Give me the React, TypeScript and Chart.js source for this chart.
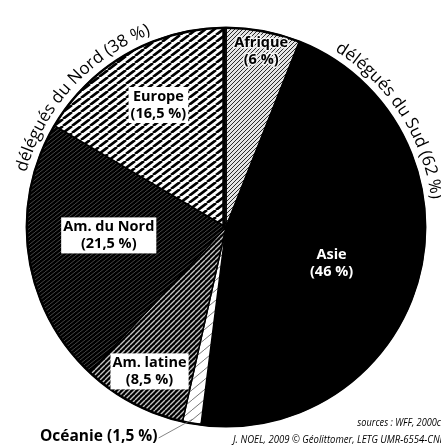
import React, { useEffect, useRef } from "react";
import { Chart, registerables } from "chart.js";

Chart.register(...registerables);

const categories = ["Afrique", "Asie", "Océanie", "Am. latine", "Am. du Nord", "Europe"];
const shares = [6, 46, 1.5, 8.5, 21.5, 16.5];
const shareText = ["6 %", "46 %", "1,5 %", "8,5 %", "21,5 %", "16,5 %"];
const groupLabels = ["délégués du Nord (38 %)", "délégués du Sud (62 %)"];
const sourceLines = ["sources : WFF, 2000c", "J. NOEL, 2009 © Géolittomer, LETG UMR-6554-CNRS"];

const W = 441;
const H = 446;

function hatch(w: number, h: number, bg: string, fg: string, lw: number) {
  const c = document.createElement("canvas");
  c.width = w;
  c.height = h;
  const x = c.getContext("2d")!;
  x.fillStyle = bg;
  x.fillRect(0, 0, w, h);
  x.strokeStyle = fg;
  x.lineWidth = lw;
  x.beginPath();
  for (let i = -1; i <= 1; i++) {
    x.moveTo(i * w, h);
    x.lineTo(i * w + w, 0);
  }
  x.stroke();
  return x.createPattern(c, "repeat")!;
}

// label style config: radius fraction, angle offset (deg), mode
const labelStyle: Record<string, { rf: number; da: number; mode: string }> = {
  "Afrique": { rf: 0.9, da: 0.5, mode: "halo" },
  "Asie": { rf: 0.56, da: 4.5, mode: "white" },
  "Océanie": { rf: 0, da: 0, mode: "outside" },
  "Am. latine": { rf: 0.82, da: 0, mode: "box" },
  "Am. du Nord": { rf: 0.59, da: 4, mode: "box" },
  "Europe": { rf: 0.7, da: 0.7, mode: "box" },
};

export default function App() {
  const ref = useRef<HTMLCanvasElement | null>(null);
  useEffect(() => {
    const canvas = ref.current!;
    const fills = [
      hatch(4, 4, "#e4e4e4", "#2a2a2a", 1),
      "#000000",
      hatch(12, 10, "#ffffff", "#777777", 1),
      hatch(5, 5, "#000000", "#c4c4c4", 1.4),
      hatch(5, 4, "#000000", "#5a5a5a", 0.8),
      hatch(9, 7, "#ffffff", "#000000", 2.6),
    ];
    const FONT = "'Open Sans', 'Noto Sans', sans-serif";

    const overlay = {
      id: "overlay",
      afterDatasetsDraw(chart: any) {
        const ctx: CanvasRenderingContext2D = chart.ctx;
        const meta = chart.getDatasetMeta(0);
        const arc0 = meta.data[0];
        const cx = arc0.x;
        const cy = arc0.y;
        const R = arc0.outerRadius;
        ctx.save();
        ctx.beginPath();
        ctx.arc(cx, cy, R, 0, Math.PI * 2);
        ctx.lineWidth = 2.4;
        ctx.strokeStyle = "#000";
        ctx.stroke();
        ctx.beginPath();
        ctx.moveTo(cx - 2, cy);
        ctx.lineTo(cx - 2, cy - R);
        ctx.lineWidth = 3.5;
        ctx.stroke();

        ctx.textAlign = "center";
        ctx.textBaseline = "middle";
        meta.data.forEach((arc: any, i: number) => {
          const name = categories[i];
          const st = labelStyle[name];
          const mid = (arc.startAngle + arc.endAngle) / 2;
          ctx.font = `700 14.5px ${FONT}`;
          if (st.mode === "outside") {
            const ex = cx + Math.cos(mid) * (R - 4);
            const ey = cy + Math.sin(mid) * (R - 4);
            const txt = `${name} (${shareText[i]})`;
            ctx.font = `700 15.5px ${FONT}`;
            ctx.textAlign = "left";
            const tx = 40;
            const ty = 437;
            ctx.fillStyle = "#000";
            ctx.fillText(txt, tx, ty);
            const tw = ctx.measureText(txt).width;
            ctx.beginPath();
            ctx.moveTo(tx + tw + 1, ty + 1);
            ctx.lineTo(ex, ey);
            ctx.lineWidth = 0.8;
            ctx.strokeStyle = "#666";
            ctx.stroke();
            ctx.textAlign = "center";
            return;
          }
          const a = mid + (st.da * Math.PI) / 180;
          const lx = cx + Math.cos(a) * R * st.rf;
          const ly = cy + Math.sin(a) * R * st.rf;
          const l1 = name;
          const l2 = `(${shareText[i]})`;
          const lh = 17;
          const w1 = ctx.measureText(l1).width;
          const w2 = ctx.measureText(l2).width;
          if (st.mode === "box") {
            const bw = Math.max(w1, w2) + 4;
            ctx.fillStyle = "#fff";
            ctx.fillRect(lx - bw / 2, ly - lh - 1, bw, lh * 2 + 2);
          }
          if (st.mode === "halo") {
            ctx.lineWidth = 3;
            ctx.strokeStyle = "rgba(255,255,255,0.8)";
            ctx.lineJoin = "round";
            ctx.strokeText(l1, lx, ly - lh / 2);
            ctx.strokeText(l2, lx, ly + lh / 2);
          }
          ctx.fillStyle = st.mode === "white" ? "#fff" : "#000";
          ctx.fillText(l1, lx, ly - lh / 2);
          ctx.fillText(l2, lx, ly + lh / 2);
        });

        const drawArcText = (text: string, centerDeg: number, r: number) => {
          ctx.font = `400 17px ${FONT}`;
          ctx.textAlign = "center";
          ctx.textBaseline = "alphabetic";
          ctx.fillStyle = "#000";
          const total = ctx.measureText(text).width;
          let acc = 0;
          const start = (centerDeg * Math.PI) / 180 - total / r / 2;
          for (const ch of text) {
            const cw = ctx.measureText(ch).width;
            const th = start + (acc + cw / 2) / r;
            ctx.save();
            ctx.translate(cx, cy);
            ctx.rotate(th);
            ctx.fillText(ch, 0, -r);
            ctx.restore();
            acc += cw;
          }
        };
        drawArcText(groupLabels[0], 312, R + 8);
        drawArcText(groupLabels[1], 57, R + 8);

        ctx.fillStyle = "#000";
        ctx.textBaseline = "middle";
        ctx.font = `italic 400 11.5px ${FONT}`;
        ctx.save();
        ctx.translate(441, 423);
        ctx.scale(0.8, 1);
        ctx.textAlign = "right";
        ctx.fillText(sourceLines[0], 0, 0);
        ctx.restore();
        ctx.save();
        ctx.translate(233, 440);
        ctx.scale(0.83, 1);
        ctx.textAlign = "left";
        ctx.fillText(sourceLines[1], 0, 0);
        ctx.restore();
        ctx.restore();
      },
    };

    const chart = new Chart(canvas, {
      type: "pie",
      data: {
        labels: categories,
        datasets: [
          {
            data: shares,
            backgroundColor: fills as any,
            borderColor: "#000",
            borderWidth: 1.5,
          },
        ],
      },
      options: {
        responsive: false,
        animation: false,
        layout: { padding: { left: 26, right: 15, top: 27, bottom: 19 } },
        plugins: { legend: { display: false }, tooltip: { enabled: false } },
      },
      plugins: [overlay],
    });
    return () => chart.destroy();
  }, []);
  return (
    <div style={{ position: "fixed", left: 0, top: 0, width: W, height: H, background: "#fff" }}>
      <canvas ref={ref} width={W} height={H} style={{ display: "block" }} />
    </div>
  );
}
